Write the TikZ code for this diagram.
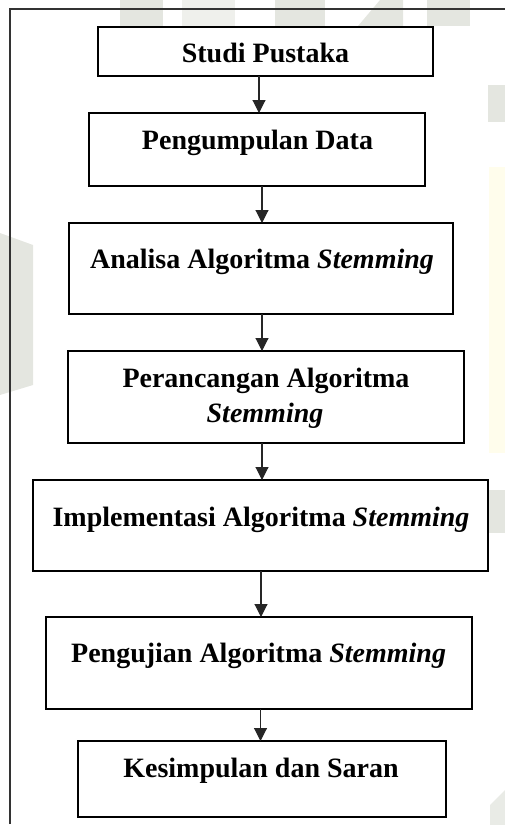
\documentclass[tikz,border=0pt]{standalone}
\usepackage{fontspec}
\setmainfont{Liberation Serif}
\usetikzlibrary{arrows.meta}
\definecolor{wmgray}{RGB}{228,230,224}
\definecolor{wmyel}{RGB}{255,253,236}
\tikzset{
  stepbox/.style={draw=black, line width=2.1pt, fill=white, rectangle, outer sep=0pt, inner sep=0pt},
  lbl/.style={font=\fontsize{28}{35}\selectfont\bfseries, inner sep=0pt, anchor=base},
  conn/.style={draw=black!85, line width=1.1pt, -{Triangle[width=13pt,length=13pt]}},
  frameline/.style={draw=black!80, line width=1.2pt}
}
\begin{document}
\begin{tikzpicture}[x=1pt,y=-1pt]
\useasboundingbox (0,0) rectangle (505,825);
% faint watermark
\fill[wmgray] (120,0) rectangle (163,26);
\fill[wmgray!60] (182,0) rectangle (235,26);
\fill[wmgray] (275,0) rectangle (325,26);
\fill[wmgray] (380,0) -- (403,0) -- (403,26) -- (358,26) -- cycle;
\fill[wmgray] (427,0) rectangle (470,26);
\fill[wmgray] (488,85) rectangle (505,122);
\fill[wmyel] (489,167) rectangle (505,453);
\fill[wmgray] (487,490) rectangle (505,533);
\fill[wmgray!80] (505,790) -- (505,825) -- (490,825) -- (490,805) -- cycle;
\fill[wmgray] (0,233) -- (33,245) -- (33,385) -- (0,395) -- cycle;
% frame
\coordinate (fa) at (10,824);
\coordinate (fb) at (10,9);
\coordinate (fc) at (505,9);
\draw[frameline] (fa) -- (fb) -- (fc);
% boxes
\node[stepbox, minimum width=335, minimum height=49] (b1) at (265.5,51.5) {};
\node[stepbox, minimum width=336, minimum height=73] (b2) at (257,149.5) {};
\node[stepbox, minimum width=384, minimum height=91] (b3) at (261,268.5) {};
\node[stepbox, minimum width=396, minimum height=92] (b4) at (266,397) {};
\node[stepbox, minimum width=455, minimum height=91] (b5) at (260.5,525.5) {};
\node[stepbox, minimum width=426, minimum height=92] (b6) at (259,663) {};
\node[stepbox, minimum width=368, minimum height=76] (b7) at (262,779) {};
% labels
\node[lbl] (t1) at (265.5,62.5) {Studi Pustaka};
\node[lbl] (t2) at (257.5,149) {Pengumpulan Data};
\node[lbl] (t3) at (262,268) {Analisa Algoritma \textit{Stemming}};
\node[lbl] (t4a) at (266,387) {Perancangan Algoritma};
\node[lbl] (t4b) at (265,422) {\textit{Stemming}};
\node[lbl] (t5) at (261,526) {Implementasi Algoritma \textit{Stemming}};
\node[lbl] (t6) at (258.6,662) {Pengujian Algoritma \textit{Stemming}};
\node[lbl] (t7) at (261,777.5) {Kesimpulan dan Saran};
% connectors
\draw[conn] (b1.south -| 259,0) -- (b2.north -| 259,0);
\draw[conn] (b2.south -| 262,0) -- (b3.north -| 262,0);
\draw[conn] (b3.south -| 262,0) -- (b4.north -| 262,0);
\draw[conn] (b4.south -| 262,0) -- (b5.north -| 262,0);
\draw[conn] (b5.south -| 261,0) -- (b6.north -| 261,0);
\draw[conn] (b6.south -| 260.5,0) -- (b7.north -| 260.5,0);
\end{tikzpicture}
\end{document}
